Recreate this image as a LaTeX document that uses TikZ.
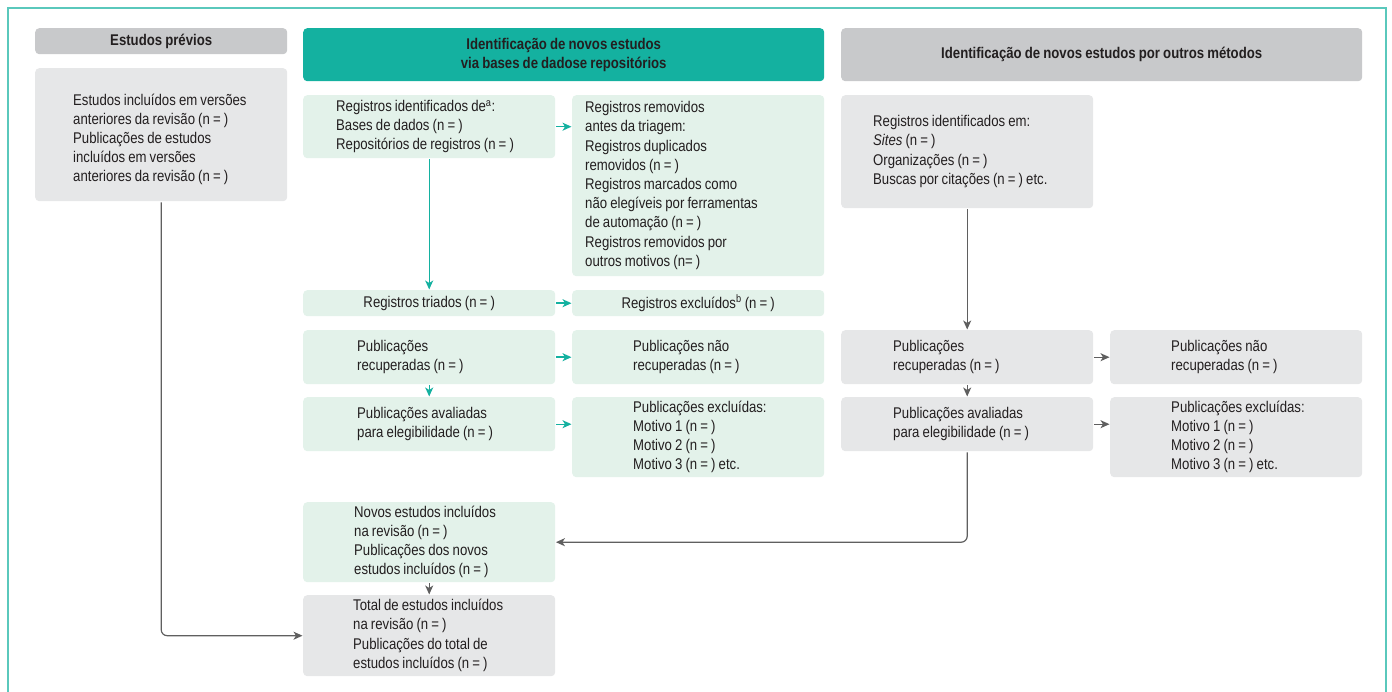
\documentclass[tikz,border=0pt]{standalone}
\usepackage{fontspec}
\setmainfont{Liberation Sans}[FakeStretch=0.85,WordSpace=0.85]
\usetikzlibrary{arrows.meta}
\definecolor{prismateal}{RGB}{20,177,160}
\definecolor{frameteal}{RGB}{90,200,188}
\definecolor{boxgreen}{RGB}{227,242,234}
\definecolor{boxgray}{RGB}{230,231,232}
\definecolor{headgray}{RGB}{200,201,203}
\definecolor{arrowgray}{RGB}{95,95,95}
\definecolor{ink}{RGB}{35,31,32}
\newcommand{\boxlines}[2]{\makebox[252pt][l]{\hspace*{#1}\begin{tabular}{@{}l@{}}#2\end{tabular}}}
\begin{document}
\begin{tikzpicture}[x=1pt,y=-1pt]
\tikzstyle{box}=[rectangle, rounded corners=4pt, anchor=north west, minimum width=252pt, inner xsep=0pt, inner ysep=0pt, text=ink, font=\fontsize{15.5}{19.2}\selectfont]
  \tikzstyle{greenbox}=[box, fill=boxgreen]
  \tikzstyle{graybox}=[box, fill=boxgray]
  \tikzstyle{header}=[box, font=\fontsize{15.5}{19.2}\selectfont\bfseries, align=center]
  \tikzstyle{tealarrow}=[draw=prismateal, line width=1.4pt, -{Stealth[length=9pt,width=8pt,inset=2.5pt]}, shorten <=1pt, shorten >=0.5pt]
  \tikzstyle{grayarrow}=[tealarrow, draw=arrowgray, line width=1.2pt, rounded corners=6pt]

  \useasboundingbox (0,0) rectangle (1392,692);
  \draw[frameteal, line width=1.5pt] (8,692) -- (8,8) -- (1386,8) -- (1386,692);

  \node[header, fill=headgray, minimum height=26pt] (hprev) at (35,28) {Estudos prévios};
  \node[header, fill=prismateal, minimum width=521pt, minimum height=53pt] (hdb) at (303,28)
    {Identificação de novos estudos\\via bases de dadose repositórios};
  \node[header, fill=headgray, minimum width=521pt, minimum height=53pt] (hother) at (841,28)
    {Identificação de novos estudos por outros métodos};

  \node[graybox, minimum height=133pt] (prev) at (35,68)
    {\raisebox{-5pt}[\height][\depth]{\boxlines{38pt}{Estudos incluídos em versões\\anteriores da revisão (n = )\\Publicações de estudos\\incluídos em versões\\anteriores da revisão (n = )}}};

  \node[greenbox, minimum height=63pt] (ident) at (303,95)
    {\boxlines{33pt}{Registros identificados de\textsuperscript{a}:\\Bases de dados (n = )\\Repositórios de registros (n = )}};
  \node[greenbox, minimum height=181pt] (removed) at (572,95)
    {\boxlines{13pt}{Registros removidos\\antes da triagem:\\Registros duplicados\\removidos (n = )\\Registros marcados como\\não elegíveis por ferramentas\\de automação (n = )\\Registros removidos por\\outros motivos (n= )}};
  \node[greenbox, minimum height=26pt] (triados) at (303,290)
    {Registros triados (n = )};
  \node[greenbox, minimum height=26pt] (excluidos) at (572,290)
    {Registros excluídos\textsuperscript{b} (n = )};
  \node[greenbox, minimum height=54pt] (recup) at (303,330)
    {\boxlines{54pt}{Publicações\\recuperadas (n = )}};
  \node[greenbox, minimum height=54pt] (naorecup) at (572,330)
    {\boxlines{61pt}{Publicações não\\recuperadas (n = )}};
  \node[greenbox, minimum height=54pt] (aval) at (303,397)
    {\boxlines{54pt}{Publicações avaliadas\\para elegibilidade (n = )}};
  \node[greenbox, minimum height=80pt] (excl) at (572,397)
    {\boxlines{61pt}{Publicações excluídas:\\Motivo 1 (n = )\\Motivo 2 (n = )\\Motivo 3 (n = ) etc.}};

  \node[graybox, minimum height=113pt] (other) at (841,95)
    {\boxlines{32pt}{Registros identificados em:\\\textit{Sites} (n = )\\Organizações (n = )\\Buscas por citações (n = ) etc.}};
  \node[graybox, minimum height=54pt] (recup2) at (841,330)
    {\boxlines{52pt}{Publicações\\recuperadas (n = )}};
  \node[graybox, minimum height=54pt] (naorecup2) at (1110,330)
    {\boxlines{61pt}{Publicações não\\recuperadas (n = )}};
  \node[graybox, minimum height=54pt] (aval2) at (841,397)
    {\boxlines{52pt}{Publicações avaliadas\\para elegibilidade (n = )}};
  \node[graybox, minimum height=80pt] (excl2) at (1110,397)
    {\boxlines{61pt}{Publicações excluídas:\\Motivo 1 (n = )\\Motivo 2 (n = )\\Motivo 3 (n = ) etc.}};

  \node[greenbox, minimum height=80pt] (novos) at (303,502)
    {\boxlines{51pt}{Novos estudos incluídos\\na revisão (n = )\\Publicações dos novos\\estudos incluídos (n = )}};
  \node[graybox, minimum height=81pt] (total) at (303,595)
    {\boxlines{50pt}{Total de estudos incluídos\\na revisão (n = )\\Publicações do total de\\estudos incluídos (n = )}};

  \draw[tealarrow] (ident.east) -- (ident.east -| removed.west);
  \draw[tealarrow] (ident.south) -- (triados.north);
  \draw[tealarrow] (triados) -- (excluidos);
  \draw[tealarrow] (recup) -- (naorecup);
  \draw[tealarrow] (recup.south) -- (aval.north);
  \draw[tealarrow] (aval.east) -- (aval.east -| excl.west);

  \draw[grayarrow] (other.south) -- (recup2.north);
  \draw[grayarrow] (recup2) -- (naorecup2);
  \draw[grayarrow] (recup2.south) -- (aval2.north);
  \draw[grayarrow] (aval2.east) -- (aval2.east -| excl2.west);
  \draw[grayarrow] (aval2.south) |- (novos.east);
  \draw[grayarrow] (novos.south) -- (total.north);
  \draw[grayarrow] (prev.south) |- (total.west);
\end{tikzpicture}
\end{document}
